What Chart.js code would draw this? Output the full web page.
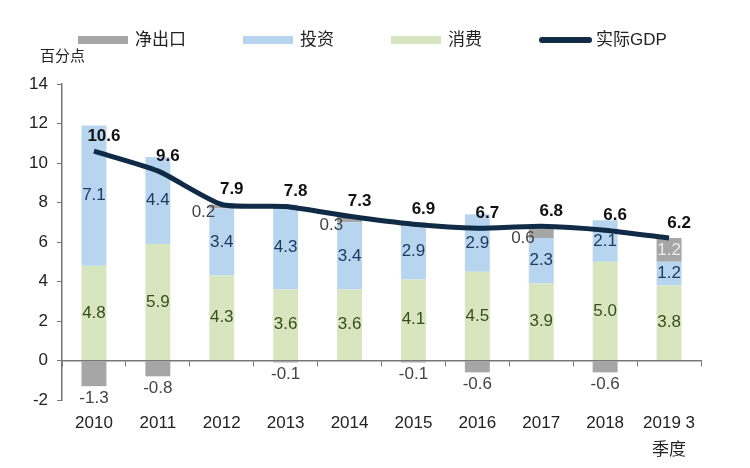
<!DOCTYPE html>
<html>
<head>
<meta charset="utf-8">
<script src="https://cdn.jsdelivr.net/npm/chart.js@4.4.0/dist/chart.umd.min.js"></script>
<style>
    html, body { margin: 0; padding: 0; background: #fff; }
    #wrap { width: 750px; height: 468px; position: relative; }
</style>
</head>
<body>
<div id="wrap"><canvas id="myChart"></canvas></div>
<script>
// data (percentage points)
const years = ['2010', '2011', '2012', '2013', '2014', '2015', '2016', '2017', '2018', ['2019 3', '季度']];
const consumption = [4.8, 5.9, 4.3, 3.6, 3.6, 4.1, 4.5, 3.9, 5.0, 3.8];
const investment = [7.1, 4.4, 3.4, 4.3, 3.4, 2.9, 2.9, 2.3, 2.1, 1.2];
const netExports = [-1.3, -0.8, 0.2, -0.1, 0.3, -0.1, -0.6, 0.6, -0.6, 1.2];
const realGdp = [10.6, 9.6, 7.9, 7.8, 7.3, 6.9, 6.7, 6.8, 6.6, 6.2];
const yTicks = [-2, 0, 2, 4, 6, 8, 10, 12, 14];

const FONT = "'Liberation Sans', Arial, 'Noto Sans CJK SC', sans-serif";
const ctx = document.getElementById('myChart').getContext('2d');

// numbers on the bars and above the line
const valueLabels = {
    id: 'valueLabels',
    afterDatasetsDraw(chart) {
        const c = chart.ctx;
        c.save();
        c.textAlign = 'center';
        c.textBaseline = 'middle';
        chart.data.datasets.forEach((ds, i) => {
            const meta = chart.getDatasetMeta(i);
            meta.data.forEach((el, j) => {
                const v = ds.data[j];
                const txt = v.toFixed(1);
                if (ds.type === 'line') {
                    c.font = 'bold 17px ' + FONT;
                    c.fillStyle = '#111';
                    c.fillText(txt, el.x + 10, el.y - 15);
                    return;
                }
                const {x, y, base, width} = el.getProps(['x', 'y', 'base', 'width'], true);
                c.font = '17px ' + FONT;
                c.fillStyle = ds.labelColor;
                if (ds.key === 'net') {
                    if (v < 0) {
                        c.fillText(txt, x, y + 12);
                    } else if (Math.abs(base - y) > 18) {
                        c.fillStyle = '#ececec';
                        c.fillText(txt, x, (y + base) / 2);
                    } else {
                        c.textAlign = 'right';
                        c.fillText(txt, x - width / 2 + 6, (y + base) / 2 + 6);
                        c.textAlign = 'center';
                    }
                } else {
                    c.fillText(txt, x, (y + base) / 2);
                }
            });
        });
        c.restore();
    }
};

// legend row + unit text at the top
const topLegend = {
    id: 'topLegend',
    afterDraw(chart) {
        const c = chart.ctx;
        const order = [2, 1, 0, 3];
        let x = 78;
        const yMid = 40;
        c.save();
        c.font = '17px ' + FONT;
        c.textBaseline = 'middle';
        c.textAlign = 'left';
        order.forEach(i => {
            const ds = chart.data.datasets[i];
            if (ds.type === 'line') {
                c.strokeStyle = ds.borderColor;
                c.lineWidth = 6;
                c.lineCap = 'round';
                c.beginPath();
                c.moveTo(x + 3, yMid);
                c.lineTo(x + 50, yMid);
                c.stroke();
            } else {
                c.fillStyle = ds.backgroundColor;
                c.fillRect(x, yMid - 4, 50, 8);
            }
            c.fillStyle = '#222';
            c.fillText(ds.label, x + 57, yMid);
            x += 57 + c.measureText(ds.label).width + 57;
        });
        c.font = '15px ' + FONT;
        c.fillStyle = '#222';
        c.fillText('百分点', 40, 57);
        c.restore();
    }
};

const myChart = new Chart(ctx, {
    type: 'bar',
    data: {
        labels: years,
        datasets: [{
            key: 'cons',
            label: '消费',
            data: consumption,
            backgroundColor: '#d7e6bf',
            labelColor: '#3b4d1c',
            order: 1
        }, {
            key: 'inv',
            label: '投资',
            data: investment,
            backgroundColor: '#b7d5ee',
            labelColor: '#1f3a60',
            order: 1
        }, {
            key: 'net',
            label: '净出口',
            data: netExports,
            backgroundColor: '#a6a6a6',
            labelColor: '#444',
            order: 1
        }, {
            type: 'line',
            label: '实际GDP',
            data: realGdp,
            borderColor: '#0f2b46',
            backgroundColor: '#0f2b46',
            borderWidth: 5,
            pointRadius: 0,
            tension: 0.2,
            order: 0
        }]
    },
    options: {
        responsive: true,
        maintainAspectRatio: false,
        animation: false,
        layout: {
            padding: {top: 84, left: 28, right: 49, bottom: 68}
        },
        datasets: {
            bar: {
                barPercentage: 0.39,
                categoryPercentage: 1
            }
        },
        scales: {
            x: {
                stacked: true,
                position: {y: 0},
                grid: {
                    drawOnChartArea: false,
                    drawTicks: true,
                    tickLength: 5,
                    color: '#777'
                },
                border: {color: '#777', width: 1.5},
                ticks: {
                    color: '#222',
                    padding: 44,
                    font: {size: 17, family: FONT, lineHeight: 1.6},
                    maxRotation: 0,
                    autoSkip: false
                }
            },
            y: {
                stacked: true,
                min: -2,
                max: 14,
                afterFit: scale => { scale.width = 34; },
                afterBuildTicks: scale => { scale.ticks = yTicks.map(v => ({value: v})); },
                grid: {
                    drawOnChartArea: false,
                    drawTicks: true,
                    tickLength: 5,
                    color: '#777'
                },
                border: {color: '#777', width: 1.5},
                ticks: {
                    color: '#222',
                    padding: 9,
                    font: {size: 17, family: FONT}
                }
            }
        },
        plugins: {
            legend: {display: false},
            tooltip: {enabled: false}
        }
    },
    plugins: [valueLabels, topLegend]
});
</script>
</body>
</html>
